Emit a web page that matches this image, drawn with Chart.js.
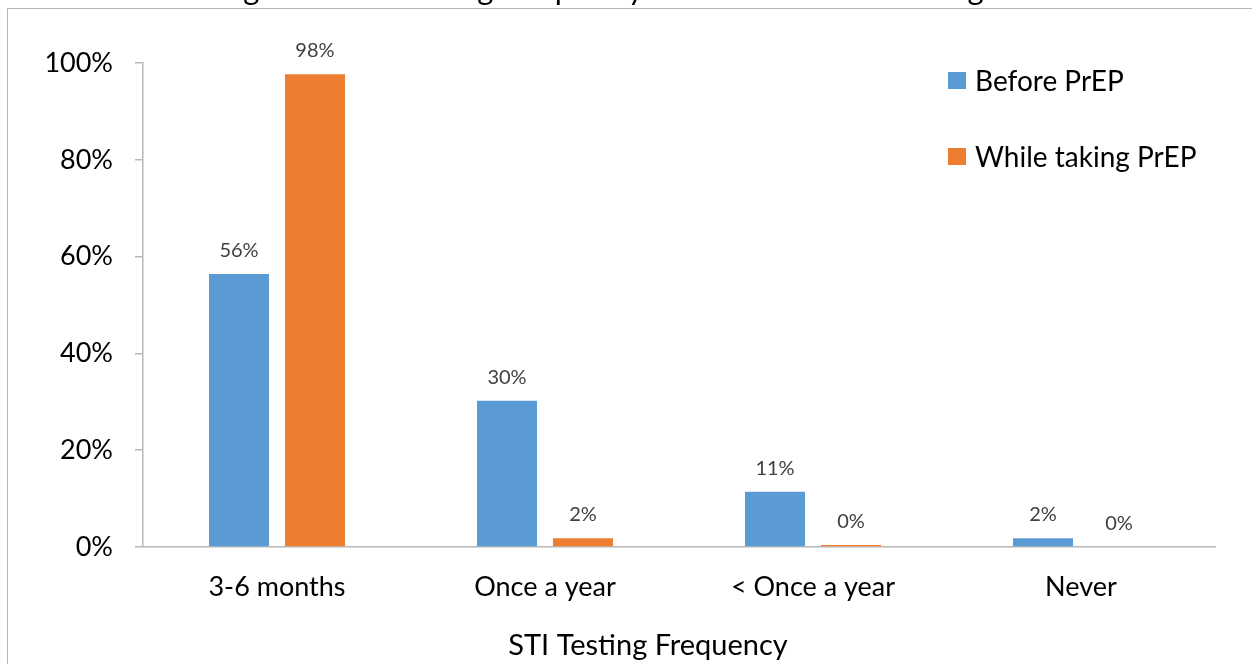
<!DOCTYPE html>
<html>
<head>
<meta charset="utf-8">
<script src="https://cdn.jsdelivr.net/npm/chart.js@4/dist/chart.umd.min.js"></script>
<style>
  html, body { margin: 0; padding: 0; background: #fff; }
  #wrap { position: relative; width: 1252px; height: 664px; overflow: hidden; }
  #frame { position: absolute; left: 7px; top: 8px; width: 1400px; height: 800px;
           border-top: 1.5px solid #b5b5b5; border-left: 1.5px solid #b5b5b5; }
  canvas { position: absolute; left: 0; top: 0; }
</style>
</head>
<body>
<div id="wrap">
  <div id="frame"></div>
  <canvas id="c" width="1252" height="664"></canvas>
</div>
<script>
// STI testing frequency, percent of respondents
const chartTitle = 'Figure 3. STI Testing Frequency Before and While Taking';
const xAxisTitle = 'STI Testing Frequency';
const categories = ['3-6 months', 'Once a year', '< Once a year', 'Never'];
const beforePrep = [56.4, 30.2, 11.4, 1.8];
const whileTakingPrep = [97.7, 1.8, 0.4, 0];
const seriesNames = ['Before PrEP', 'While taking PrEP'];
const seriesColors = ['#5B9BD5', '#ED7D31'];
const yTicks = [0, 20, 40, 60, 80, 100];

const FONT = 'Lato';
const axisGray = '#b8b8b8';

// Value labels above each bar
const valueLabels = {
  id: 'valueLabels',
  afterDatasetsDraw(chart) {
    const ctx = chart.ctx;
    ctx.save();
    ctx.font = '20px ' + FONT;
    ctx.fillStyle = '#404040';
    ctx.textAlign = 'center';
    ctx.textBaseline = 'alphabetic';
    chart.data.datasets.forEach((ds, i) => {
      chart.getDatasetMeta(i).data.forEach((bar, j) => {
        ctx.fillText(Math.round(ds.data[j]) + '%', bar.x, bar.y - 17);
      });
    });
    ctx.restore();
  }
};

// Legend drawn inside the plot area, top right
const innerLegend = {
  id: 'innerLegend',
  afterDraw(chart) {
    const ctx = chart.ctx;
    ctx.save();
    ctx.font = '28px ' + FONT;
    ctx.textBaseline = 'middle';
    ctx.textAlign = 'left';
    chart.data.datasets.forEach((ds, i) => {
      const y = 81 + i * 76;
      ctx.fillStyle = ds.backgroundColor;
      ctx.fillRect(948, y - 9, 18, 17);
      ctx.fillStyle = '#000';
      ctx.fillText(ds.label, 975, y + 1);
    });
    ctx.restore();
  }
};

// Chart heading (partly clipped by the top edge) and category axis title
const headings = {
  id: 'headings',
  afterDraw(chart) {
    const ctx = chart.ctx;
    ctx.save();
    ctx.fillStyle = '#000';
    ctx.textAlign = 'center';
    ctx.textBaseline = 'alphabetic';
    ctx.font = '31px ' + FONT;
    ctx.fillText(chartTitle, 601, 0);
    ctx.font = '29px ' + FONT;
    ctx.fillText(xAxisTitle, 648, 655);
    ctx.restore();
  }
};

new Chart(document.getElementById('c'), {
  type: 'bar',
  data: {
    labels: categories,
    datasets: [
      { label: seriesNames[0], data: beforePrep, backgroundColor: seriesColors[0] },
      { label: seriesNames[1], data: whileTakingPrep, backgroundColor: seriesColors[1] }
    ]
  },
  options: {
    responsive: false,
    animation: false,
    layout: { padding: { left: 0, right: 37, top: 63, bottom: 0 } },
    datasets: { bar: { categoryPercentage: 0.567, barPercentage: 0.79 } },
    plugins: { legend: { display: false }, tooltip: { enabled: false }, title: { display: false } },
    scales: {
      x: {
        grid: { display: false, drawTicks: false },
        border: { display: true, color: axisGray, width: 1.5 },
        ticks: { font: { family: FONT, size: 27 }, color: '#000', padding: 24, maxRotation: 0 },
        afterFit(scale) { scale.height = 117; }
      },
      y: {
        min: 0, max: 100,
        afterBuildTicks(scale) { scale.ticks = yTicks.map(v => ({ value: v })); },
        grid: { drawOnChartArea: false, drawTicks: true, tickLength: 8, color: axisGray, lineWidth: 1.5 },
        border: { display: true, color: axisGray, width: 1.5 },
        ticks: { font: { family: FONT, size: 27 }, color: '#000', padding: 22,
                 callback: v => v + '%' },
        afterFit(scale) { scale.width = 143; }
      }
    }
  },
  plugins: [valueLabels, innerLegend, headings]
});
</script>
</body>
</html>
